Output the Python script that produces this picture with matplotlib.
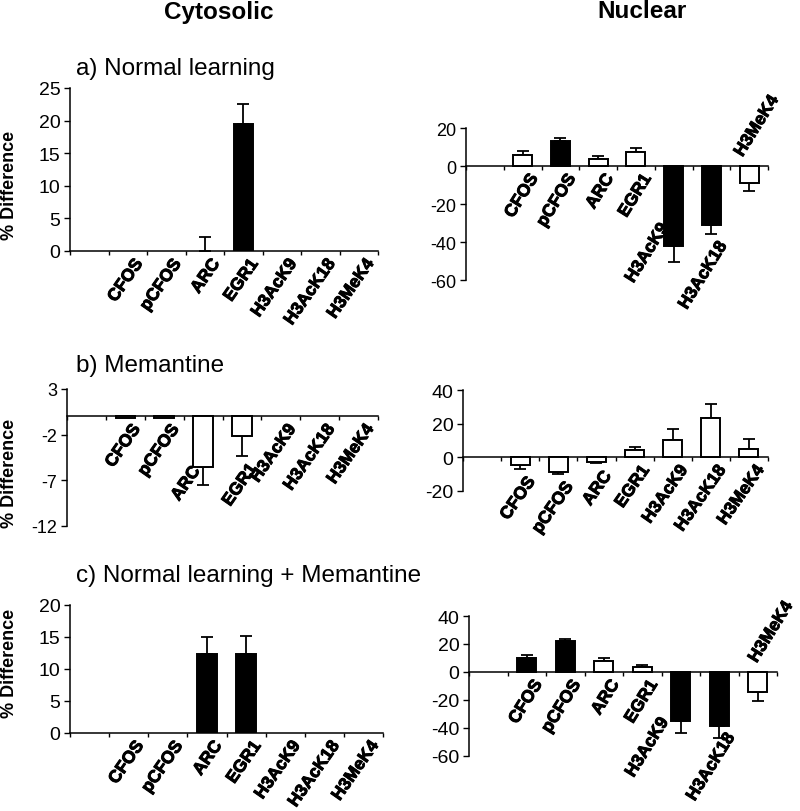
import numpy as np
import matplotlib.pyplot as plt
import matplotlib.patheffects as pe

plt.rcParams['font.family'] = ['Liberation Sans', 'DejaVu Sans']
plt.rcParams['axes.unicode_minus'] = False

genes = ["CFOS", "pCFOS", "ARC", "EGR1", "H3AcK9", "H3AcK18", "H3MeK4"]

# a) normal learning
a_cyt_val = [0, 0, 0, 19.5, 0, 0, 0]
a_cyt_err = [0, 0, 2.1, 3.0, 0, 0, 0]
a_cyt_sig = [0, 0, 0, 1, 0, 0, 0]
a_nuc_val = [5.8, 13.2, 3.7, 7.2, -42.0, -31.0, -9.1]
a_nuc_err = [2.1, 1.7, 1.7, 2.3, 8.4, 4.6, 3.9]
a_nuc_sig = [0, 1, 0, 0, 1, 1, 0]

# b) memantine
b_cyt_val = [-0.2, -0.2, -5.5, -2.2, 0, 0, 0]
b_cyt_err = [0, 0, 2.0, 2.1, 0, 0, 0]
b_cyt_sig = [0, 0, 0, 0, 0, 0, 0]
b_nuc_val = [-4.5, -9.0, -2.5, 4.3, 10.2, 23.5, 4.9]
b_nuc_err = [2.4, 0.8, 1.0, 1.8, 6.8, 7.9, 5.9]
b_nuc_sig = [0, 0, 0, 0, 0, 0, 0]

# c) normal learning + memantine
c_cyt_val = [0, 0, 12.3, 12.3, 0, 0, 0]
c_cyt_err = [0, 0, 2.7, 2.8, 0, 0, 0]
c_cyt_sig = [0, 0, 1, 1, 0, 0, 0]
c_nuc_val = [10.0, 21.9, 8.1, 3.4, -35.2, -38.4, -14.3]
c_nuc_err = [2.4, 1.7, 1.9, 1.8, 8.4, 8.7, 6.6]
c_nuc_sig = [1, 1, 0, 0, 1, 1, 0]

thick = [pe.withStroke(linewidth=0.7, foreground='black')]


def draw_panel(ax, vals, errs, sig, yticks, moves={}, tick_fs=13, rot=55):
    vals = np.array(vals, dtype=float)
    errs = np.array(errs, dtype=float)
    x = np.arange(1, len(genes) + 1)
    colors = np.array(['black' if s else 'white' for s in sig])
    nz = vals != 0
    ax.bar(x[nz], vals[nz], width=0.5, color=colors[nz], edgecolor='black', linewidth=1.4, zorder=3)

    has_err = errs > 0
    up = np.where(vals >= 0, errs, 0)
    down = np.where(vals < 0, errs, 0)
    ax.errorbar(x[has_err], vals[has_err], yerr=[down[has_err], up[has_err]], fmt='none',
                ecolor='black', elinewidth=1.3, capsize=4, capthick=1.3, zorder=2)

    ax.set_xlim(-0.5, len(genes) + 0.5)
    ax.set_ylim(yticks[0], yticks[-1])
    ax.set_yticks(yticks)
    ax.set_xticks(np.arange(-0.5, len(genes) + 1, 1))
    ax.spines['top'].set_visible(False)
    ax.spines['right'].set_visible(False)
    ax.spines['bottom'].set_position(('data', 0))
    for sp in ['left', 'bottom']:
        ax.spines[sp].set_linewidth(1.1)
    ax.tick_params(axis='x', direction='out', length=3, width=1, labelbottom=False)
    ax.tick_params(axis='y', direction='out', length=4, width=1, labelsize=tick_fs, pad=3)
    ax.patch.set_visible(False)

    for i, g in enumerate(genes):
        kw = dict(textcoords='offset points', rotation=rot, rotation_mode='anchor',
                  fontsize=12.5, fontweight='bold', annotation_clip=False, path_effects=thick)
        if g in moves:
            mode, dx, yv = moves[g]
            if mode == 'above':
                ax.annotate(g, xy=(x[i], yv), xytext=(dx, 5), ha='left', va='bottom', **kw)
            else:
                ax.annotate(g, xy=(x[i], yv), xytext=(dx, -4), ha='right', va='top', **kw)
            continue
        low = vals[i] - down[i] if vals[i] < -1 else 0
        ax.annotate(g, xy=(x[i], low), xytext=(4, -4), ha='right', va='top', **kw)


W, H = 800, 812
fig = plt.figure(figsize=(W / 100, H / 100), dpi=100)


def rect(x0, x1, ytop, ybot):
    return [x0 / W, 1 - ybot / H, (x1 - x0) / W, (ybot - ytop) / H]


ax_a1 = fig.add_axes(rect(70, 378, 89, 252))
ax_a2 = fig.add_axes(rect(466, 768, 129, 281))
ax_b1 = fig.add_axes(rect(67, 378, 390, 527))
ax_b2 = fig.add_axes(rect(463, 768, 391, 492))
ax_c1 = fig.add_axes(rect(70, 383, 606, 734))
ax_c2 = fig.add_axes(rect(469, 777, 617, 757))

draw_panel(ax_a1, a_cyt_val, a_cyt_err, a_cyt_sig, [0, 5, 10, 15, 20, 25], tick_fs=14)
draw_panel(ax_a2, a_nuc_val, a_nuc_err, a_nuc_sig, [-60, -40, -20, 0, 20], rot=58,
           moves={"H3AcK9": ('below', -11, -26), "H3MeK4": ('above', -3, 0)})
draw_panel(ax_b1, b_cyt_val, b_cyt_err, b_cyt_sig, [-12, -7, -2, 3],
           moves={"ARC": ('below', -9, -4.6)})
draw_panel(ax_b2, b_nuc_val, b_nuc_err, b_nuc_sig, [-20, 0, 20, 40], tick_fs=14)
draw_panel(ax_c1, c_cyt_val, c_cyt_err, c_cyt_sig, [0, 5, 10, 15, 20], tick_fs=14)
draw_panel(ax_c2, c_nuc_val, c_nuc_err, c_nuc_sig, [-60, -40, -20, 0, 20, 40], rot=58,
           moves={"H3AcK9": ('below', -16, -27), "H3AcK18": ('below', 4, -38),
                  "H3MeK4": ('above', 1, 0)}, tick_fs=14)

fig.text(219 / W, 1 - 12 / H, "Cytosolic", fontsize=17.5, fontweight='bold', ha='center', va='center')
fig.text(642 / W, 1 - 12 / H, "Nuclear", fontsize=17.5, fontweight='bold', ha='center', va='center')

fig.text(76 / W, 1 - 69 / H, "a) Normal learning", fontsize=17.5, ha='left', va='center')
fig.text(76 / W, 1 - 366 / H, "b) Memantine", fontsize=17.5, ha='left', va='center')
fig.text(76 / W, 1 - 576 / H, "c) Normal learning + Memantine", fontsize=17.5, ha='left', va='center')

for yc in [185, 473, 663]:
    fig.text(10 / W, 1 - yc / H, "% Difference", fontsize=13, fontweight='bold',
             rotation=90, ha='center', va='center')

fig.savefig("out.png", dpi=100)
